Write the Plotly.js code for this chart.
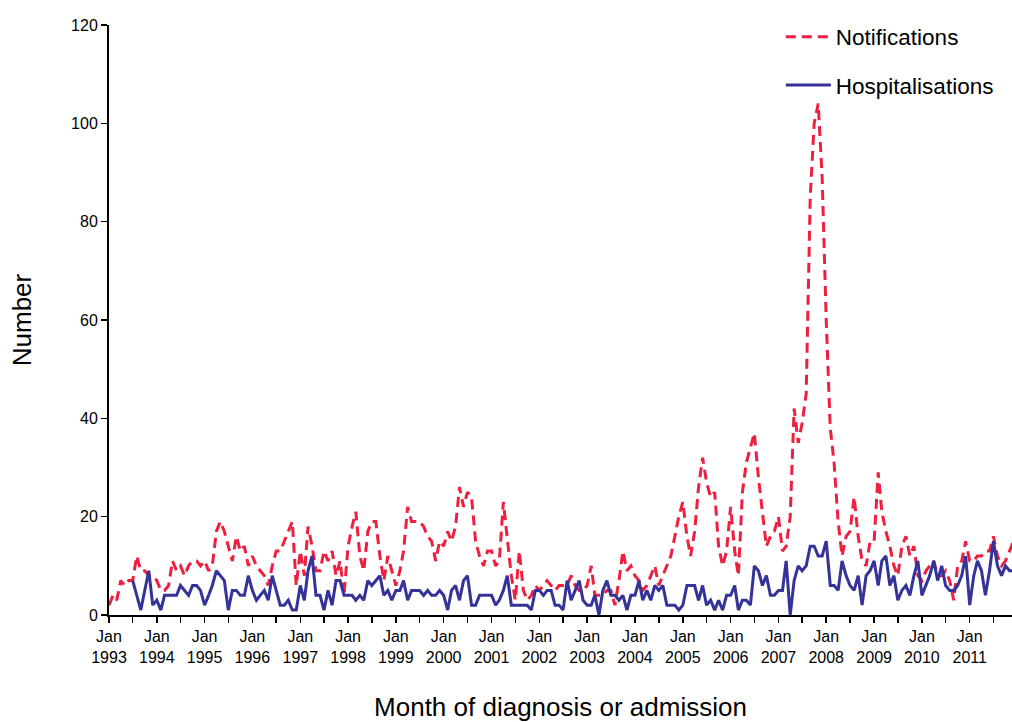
<!DOCTYPE html>
<html>
<head>
<meta charset="utf-8">
<script src="https://cdn.plot.ly/plotly-3.0.1.min.js"></script>
<style>
  html, body { margin: 0; padding: 0; background: #fff; }
  #chart { width: 1012px; height: 722px; }
</style>
</head>
<body>
<div id="chart"></div>
<script>
// monthly counts, Jan 1993 .. Dec 2011 (one row per year)
var notifications = [
   2,  4,  3,  7,  6,  7,  7, 12,  9,  9,  8,  8,   // 1993
   7,  5,  5,  6, 11,  9, 10,  8, 10, 11, 11, 10,   // 1994
  11,  9, 10, 17, 19, 17, 14, 11, 16, 13, 14, 10,   // 1995
  12, 10,  9,  8,  6, 10, 13, 13, 15, 17, 19,  6,   // 1996
  13,  8, 18, 14,  9,  9, 13, 11, 13,  8, 11,  4,   // 1997
  14, 18, 21, 12,  9, 17, 19, 19, 12,  7, 12,  9,   // 1998
   6,  9, 13, 22, 19, 19, 19, 18, 16, 15, 11, 15,   // 1999
  14, 17, 15, 18, 26, 22, 25, 24, 15, 12, 10, 13,   // 2000
  13, 10, 11, 23, 15,  8,  3, 13,  5,  3,  4,  6,   // 2001
   5,  6,  7,  6,  5,  6,  6,  6,  8,  6,  5,  5,   // 2002
   6, 10,  4,  4,  4,  5,  5,  2,  7, 13,  9, 10,   // 2003
   8,  7,  5,  6,  8, 10,  6,  8, 10, 12, 16, 20,   // 2004
  23, 16, 12, 17, 26, 32, 27, 24, 25, 14, 10, 13,   // 2005
  22, 13,  8, 25, 31, 34, 37, 28, 21, 14, 16, 17,   // 2006
  20, 13, 14, 20, 42, 35, 39, 45, 85,100,104, 89,   // 2007
  60, 38, 31, 19, 12, 16, 17, 24, 16, 11, 10, 15,   // 2008
  15, 29, 21, 17, 14, 10,  8, 14, 16, 12, 14,  8,   // 2009
   7,  9, 10, 11,  8,  8,  9,  7,  3, 10, 11, 15,   // 2010
  11, 11, 12, 12, 13, 13, 16, 12, 10, 11, 13, 15    // 2011
];

// hospital data starts July 1993
var hospitalisations = [
  null, null, null, null, null, null, 7, 4, 1, 5, 9, 2,   // 1993
   3,  1,  4,  4,  4,  4,  6,  5,  4,  6,  6,  5,   // 1994
   2,  4,  6,  9,  8,  7,  1,  5,  5,  4,  4,  8,   // 1995
   5,  3,  4,  5,  3,  8,  5,  2,  2,  3,  1,  1,   // 1996
   6,  3,  9, 12,  4,  4,  1,  5,  2,  7,  7,  4,   // 1997
   4,  4,  3,  4,  3,  7,  6,  7,  8,  4,  5,  3,   // 1998
   5,  5,  7,  3,  5,  5,  5,  4,  5,  4,  4,  5,   // 1999
   4,  1,  5,  6,  3,  7,  8,  2,  2,  4,  4,  4,   // 2000
   4,  2,  3,  5,  8,  2,  2,  2,  2,  2,  1,  5,   // 2001
   5,  4,  5,  5,  2,  2,  1,  7,  3,  5,  7,  3,   // 2002
   2,  2,  4,  0,  5,  7,  4,  4,  3,  4,  1,  4,   // 2003
   4,  7,  3,  5,  3,  6,  5,  6,  2,  2,  2,  1,   // 2004
   2,  6,  6,  6,  3,  6,  2,  3,  1,  3,  1,  4,   // 2005
   4,  6,  1,  3,  3,  2, 10,  9,  6,  8,  4,  4,   // 2006
   5,  5, 11,  0,  7, 10,  9, 10, 14, 14, 12, 12,   // 2007
  15,  6,  6,  5, 11,  8,  6,  5,  8,  2,  8,  9,   // 2008
  11,  6, 11, 12,  6,  8,  3,  5,  6,  4,  8, 11,   // 2009
   4,  6,  8, 11,  7, 10,  6,  5,  5,  6,  8, 12,   // 2010
   2,  8, 11,  9,  4,  9, 15, 10,  8, 10,  9,  9    // 2011
];

var firstYear = 1993, lastYear = 2011;

var months = [];
for (var y = firstYear; y <= lastYear; y++) {
  for (var m = 1; m <= 12; m++) {
    months.push(y + '-' + (m < 10 ? '0' + m : m) + '-01');
  }
}

var janTicks = [], janLabels = [];
for (var y = firstYear; y <= lastYear; y++) {
  janTicks.push(y + '-01-01');
  janLabels.push('Jan<br>' + y);
}

var font = 'Arial, "Liberation Sans", sans-serif';

var traceNotif = {
  x: months,
  y: notifications,
  name: 'Notifications',
  type: 'scatter',
  mode: 'lines',
  legendgroup: 'a',
  line: {color: '#EE1F3F', width: 3, dash: '10px,6px'}
};

var traceHosp = {
  x: months,
  y: hospitalisations,
  name: 'Hospitalisations',
  type: 'scatter',
  mode: 'lines',
  legendgroup: 'b',
  connectgaps: false,
  line: {color: '#333399', width: 3}
};

var layout = {
  width: 1012,
  height: 722,
  margin: {l: 109, r: 0, t: 25, b: 107},
  paper_bgcolor: '#fff',
  plot_bgcolor: '#fff',
  font: {family: font, color: '#000', size: 16},
  showlegend: true,
  legend: {
    x: 0.744, y: 1.016,
    xanchor: 'left', yanchor: 'top',
    bgcolor: 'rgba(0,0,0,0)',
    font: {family: font, size: 22.5, color: '#000'},
    itemwidth: 45,
    tracegroupgap: 16
  },
  xaxis: {
    type: 'date',
    range: ['1993-01-01', '2011-11-20'],
    showgrid: false,
    zeroline: false,
    showline: true,
    linecolor: '#000',
    linewidth: 2,
    ticks: 'outside',
    ticklen: 6,
    tickwidth: 1.5,
    tickcolor: '#000',
    tickmode: 'array',
    tickvals: janTicks,
    ticktext: janLabels,
    tickangle: 0,
    tickfont: {family: font, size: 16, color: '#000'},
    minor: {dtick: 'M6', tick0: '1993-01-01', ticks: 'outside', ticklen: 6, tickwidth: 1.5, tickcolor: '#000', showgrid: false},
    title: {text: 'Month of diagnosis or admission', font: {family: font, size: 26, color: '#000'}, standoff: 33},
    automargin: false,
    fixedrange: true
  },
  yaxis: {
    range: [0, 120],
    tickmode: 'array',
    tickvals: [0, 20, 40, 60, 80, 100, 120],
    showgrid: false,
    zeroline: false,
    showline: true,
    linecolor: '#000',
    linewidth: 2,
    ticks: 'outside',
    ticklen: 6,
    tickwidth: 1.5,
    tickcolor: '#000',
    tickfont: {family: font, size: 16, color: '#000'},
    title: {text: 'Number', font: {family: font, size: 26, color: '#000'}, standoff: 32},
    automargin: false,
    fixedrange: true
  }
};

Plotly.newPlot('chart', [traceNotif, traceHosp], layout, {displayModeBar: false, staticPlot: true});
</script>
</body>
</html>
